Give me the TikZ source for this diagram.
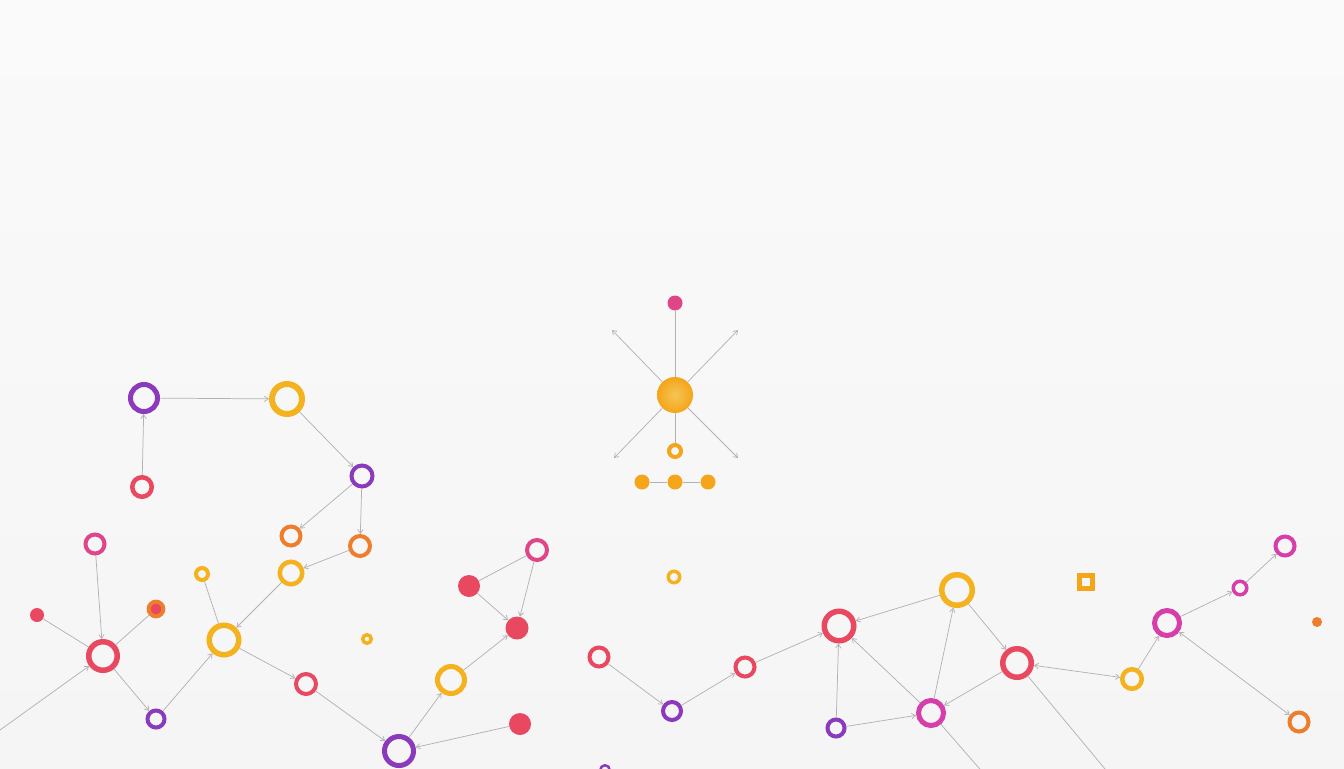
\documentclass[tikz,border=0pt]{standalone}
\usepackage{tikz}
\usetikzlibrary{arrows.meta}
\usetikzlibrary{shapes}

\definecolor{bg}{RGB}{245,245,245}
\definecolor{bgtop}{RGB}{250,250,250}
\definecolor{pur}{RGB}{140,58,188}
\definecolor{yel}{RGB}{243,178,30}
\definecolor{red}{RGB}{232,72,96}
\definecolor{mag}{RGB}{214,62,172}
\definecolor{pnk}{RGB}{224,70,135}
\definecolor{ora}{RGB}{238,125,45}
\definecolor{amb}{RGB}{244,165,25}
\definecolor{edge}{RGB}{178,178,178}

\begin{document}
\begin{tikzpicture}[x=0.75pt,y=-0.75pt,
		ring/.style={circle,draw=#1,inner sep=0pt},
		dot/.style={circle,fill=#1,inner sep=0pt},
		link/.style={draw=edge,line width=0.55pt,-{Straight Barb[length=3pt,width=4pt]}},
		both/.style={draw=edge,line width=0.55pt,{Straight Barb[length=3pt,width=4pt]}-{Straight Barb[length=3pt,width=4pt]}},
		plain/.style={draw=edge,line width=0.55pt}]
			\shade[top color=bgtop,bottom color=bg] (0,0) rectangle (1344,768);
			\useasboundingbox (0,0) rectangle (1344,768);
			\clip (0,0) rectangle (1344,768);
			% rings: name/x/y/outer radius/width/colour (px)
			\foreach \n/\x/\y/\r/\w/\c in {pA/144/398/16/5/pur, yA/287/399/18/6/yel, rA/142/487/12/4.5/red,
				pB/362/476/12.5/4/pur, oA/291/536/11.5/4/ora, oB/360/546/12/4/ora, yB/291/573/13.5/4.5/yel,
				mA/95/544/11.5/4/pnk, yC/202/574/8/4/yel, rB/103/656/17/5.5/red, yD/224/640/17.5/5.5/yel,
				yE/367/639/6/3.5/yel, pC/156/719/10.5/4/pur, rC/306/684/12/4/red, pD/399/751/17/5/pur,
				yF/451/680/16/5/yel, mB/537/550/12/4/pnk, yG/674/577/7.5/3.5/yel, rD/599/657/11.5/4/red,
				pE/672/711/11/4/pur, rE/745/667/11.5/4/red, rF/839/626/17.5/5.5/red, yH/957/590/18/5.5/yel,
				pF/836/728/10.5/4/pur, mC/931/713/15/5/mag, rG/1017/663/17/5.5/red, yI/1132/679/12/4.5/yel,
				mD/1167/623/15/5/mag, mE/1240/588/8.5/3.5/mag, mF/1285/546/11.5/4/mag, oD/1299/722/11.5/4/ora,
				pG/605/770/6/2.5/pur, yS/675/451/8/4/amb}
				{\node[ring=\c,line width=\w*0.75pt,minimum size={(2*\r-\w)*0.75pt}] (\n) at (\x,\y) {};};
			% dots
			\foreach \n/\x/\y/\r/\c in {dA/37/615/7/red, dB/469/586/11/red, dC/517/628/11.5/red,
				dD/520/724/11/red, dE/675/303/7.5/pnk, dF/642/482/7.5/amb, dG/675/482/7.5/amb,
				dH/708/482/7.5/amb, dI/1317/622/5/ora}
				{\node[dot=\c,minimum size={2*\r*0.75pt}] (\n) at (\x,\y) {};};
			\node[ring=ora,fill=red,line width=3pt,minimum size=11pt] (oC) at (156,609) {};
			\node[draw=amb,line width=3.6pt,minimum size=9.6pt,inner sep=0pt] (sq) at (1086,582) {};
			\node[circle,inner sep=0pt,minimum size=27pt,inner color=yel!75!white,outer color=amb] (ball) at (675,395) {};
			% free ends
			\coordinate (sA) at (612,330); \coordinate (sB) at (738,330);
			\coordinate (sC) at (614,458); \coordinate (sD) at (738,458);
			\coordinate (eA) at (0,730); \coordinate (eB) at (985,775); \coordinate (eC) at (1110,775);
			\foreach \t in {sA,sB,sC,sD} {\draw[link] (ball) -- (\t);};
			\draw[plain] (dE) -- (ball) -- (yS);
			\draw[plain] (dF) -- (dG) -- (dH);
			\foreach \a/\b in {pA/yA, rA/pA, yA/pB, pB/oA, pB/oB, oB/yB, yB/yD, pC/yD, yD/rC, rC/pD,
				mA/rB, rB/pC, eA/rB, pD/yF, yF/dC, dB/dC, mB/dC, dD/pD, rD/pE, pE/rE, rE/rF, yH/rF,
				pF/rF, pF/mC, mC/rF, mC/yH, rG/mC, yH/rG, rG/eC, mC/eB, yI/mD, mD/mE, mE/mF}
				{\draw[link] (\a) -- (\b);};
			\foreach \a/\b in {yC/yD, dA/rB, rB/oC, dB/mB} {\draw[plain] (\a) -- (\b);};
			\draw[both] (rG) -- (yI);
			\draw[both] (oD) -- (mD);
		\end{tikzpicture}
\end{document}
